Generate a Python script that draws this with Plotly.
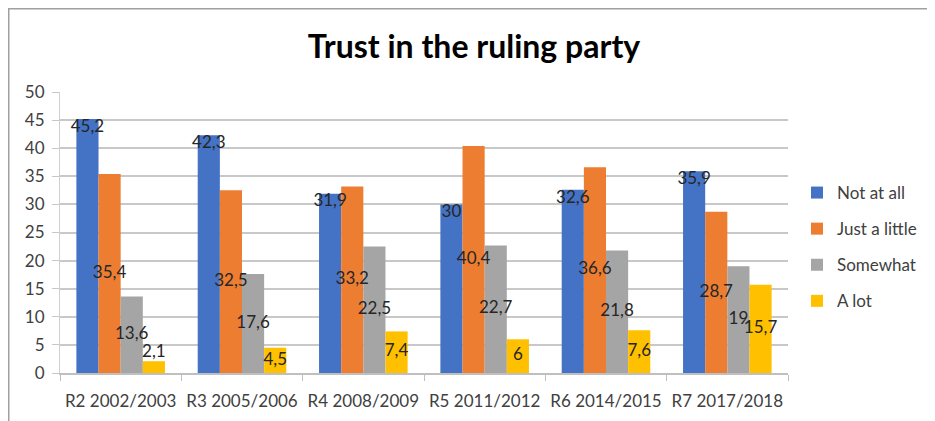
import plotly.graph_objects as go

categories = ["R2 2002/2003", "R3 2005/2006", "R4 2008/2009", "R5 2011/2012", "R6 2014/2015", "R7 2017/2018"]
not_at_all = [45.2, 42.3, 31.9, 30, 32.6, 35.9]
just_a_little = [35.4, 32.5, 33.2, 40.4, 36.6, 28.7]
somewhat = [13.6, 17.6, 22.5, 22.7, 21.8, 19]
a_lot = [2.1, 4.5, 7.4, 6, 7.6, 15.7]

series = [
    ("Not at all", not_at_all, "#4472C4"),
    ("Just a little", just_a_little, "#ED7D31"),
    ("Somewhat", somewhat, "#A5A5A5"),
    ("A lot", a_lot, "#FFC000"),
]

FONT = "Lato"
TXT = "#404040"
LBL = "#262626"

# page has an 8px body margin; figure coordinates are offset accordingly
W, H = 927, 413
L, T = 52, 84
PW, PH = 728, 281

fig = go.Figure()
for name, vals, color in series:
    fig.add_trace(go.Bar(
        x=categories, y=vals, name=name, legendgroup=name,
        marker=dict(color=color, line=dict(width=0)),
    ))

# data labels drawn on top of all bars (like Excel)
for i, (name, vals, color) in enumerate(series):
    if i == 0:
        ys = list(vals)
        pos = "bottom center"
    elif i == 3:
        ys = [v if v < 3 else v / 2 for v in vals]
        pos = ["top center" if v < 3 else "middle center" for v in vals]
    else:
        ys = [v / 2 for v in vals]
        pos = "middle center"
    fig.add_trace(go.Scatter(
        x=categories, y=ys, mode="text",
        text=[f"{v:g}".replace(".", ",") for v in vals],
        textposition=pos, textfont=dict(family=FONT, size=17, color=LBL),
        showlegend=False, hoverinfo="skip", cliponaxis=False,
    ))

fig.update_layout(
    width=W, height=H,
    barmode="group", bargap=0.27, bargroupgap=0,
    scattermode="group", scattergap=0.27,
    paper_bgcolor="white", plot_bgcolor="white",
    margin=dict(l=L, r=W - L - PW, t=T, b=H - T - PH, autoexpand=False),
    font=dict(family=FONT, size=17, color=TXT),
    title=dict(text="<b>Trust in the ruling party</b>", x=466 / W, xanchor="center",
               y=1 - 39 / H, yanchor="middle",
               font=dict(family=FONT, size=32, color="#000000")),
    legend=dict(xref="container", yref="container", x=789 / W, xanchor="left",
                y=1 - 239 / H, yanchor="middle",
                font=dict(family=FONT, size=17, color=TXT),
                tracegroupgap=11, traceorder="grouped", bgcolor="rgba(0,0,0,0)"),
    xaxis=dict(showline=True, linecolor="#BFBFBF", linewidth=1.5,
               ticks="outside", tickson="boundaries", ticklen=6, tickcolor="#BFBFBF",
               tickfont=dict(family=FONT, size=17, color=TXT), showgrid=False,
               ticklabelstandoff=12, automargin=False),
    yaxis=dict(range=[0, 50], dtick=5, showgrid=True, gridcolor="#C8C8C8", gridwidth=1.5,
               showline=True, linecolor="#D0D0D0", linewidth=1,
               ticks="outside", ticklen=7, tickcolor="#C8C8C8",
               tickfont=dict(family=FONT, size=17, color=TXT), zeroline=False,
               ticklabelstandoff=4, automargin=False),
    shapes=[dict(type="rect", xref="paper", yref="paper",
                 x0=(0.75 - L) / PW, x1=2.0, y0=-1.0, y1=(T + PH - 0.75) / PH,
                 line=dict(color="#A0A0A0", width=1.5), fillcolor="rgba(0,0,0,0)", layer="below")],
)

fig.write_html("out.html")
